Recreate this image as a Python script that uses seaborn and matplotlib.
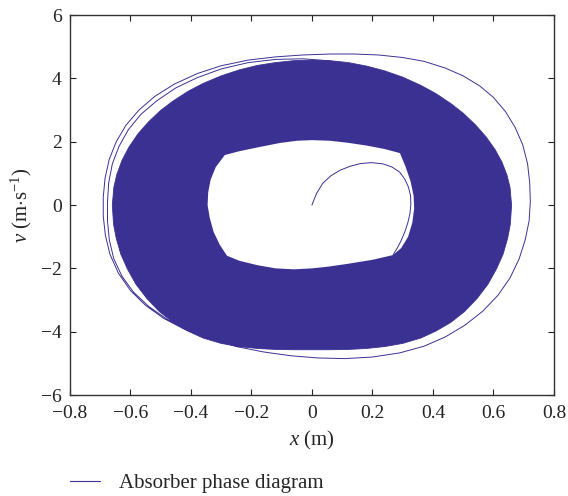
import numpy as np
import pandas as pd
import matplotlib
matplotlib.use("Agg")
import matplotlib.pyplot as plt
import matplotlib.lines as mlines
import seaborn as sns

# band of the settled orbit, outer edge, clockwise from the top
band_outer_x = [0, 0.06, 0.12, 0.18, 0.24, 0.30, 0.36, 0.41, 0.46, 0.50, 0.54, 0.575,
                0.605, 0.628, 0.645, 0.655, 0.66,
                0.656, 0.647, 0.632, 0.61, 0.582, 0.546, 0.505, 0.46, 0.41, 0.36,
                0.30, 0.24, 0.18, 0.12, 0.06, 0,
                -0.06, -0.12, -0.18, -0.24, -0.30, -0.36, -0.41, -0.46, -0.505, -0.546,
                -0.582, -0.61, -0.632, -0.647, -0.656, -0.66,
                -0.655, -0.645, -0.628, -0.605, -0.575, -0.54, -0.50, -0.46, -0.41,
                -0.36, -0.30, -0.24, -0.18, -0.12, -0.06]
band_outer_v = [4.58, 4.56, 4.5, 4.39, 4.24, 4.04, 3.78, 3.52, 3.2, 2.9, 2.54, 2.16,
                1.76, 1.36, 0.94, 0.55, 0,
                -0.6, -1.05, -1.55, -2.02, -2.5, -2.95, -3.36, -3.7, -3.98, -4.2,
                -4.37, -4.47, -4.53, -4.56, -4.57, -4.57,
                -4.57, -4.56, -4.53, -4.47, -4.37, -4.2, -3.98, -3.7, -3.36, -2.95,
                -2.5, -2.02, -1.55, -1.05, -0.6, 0,
                0.56, 0.97, 1.41, 1.83, 2.25, 2.63, 2.99, 3.28, 3.59,
                3.84, 4.08, 4.27, 4.41, 4.5, 4.56]

# hole in the middle of the band, clockwise from the top
band_inner_x = [0, 0.06, 0.116, 0.18, 0.24, 0.291,
                0.31, 0.326, 0.336, 0.338, 0.332, 0.318, 0.295, 0.268,
                0.2, 0.116, 0.05, 0, -0.06, -0.12, -0.18, -0.24, -0.281,
                -0.305, -0.325, -0.338, -0.345, -0.343, -0.335, -0.318, -0.288,
                -0.24, -0.18, -0.106, -0.05]
band_inner_v = [2.05, 2.03, 1.97, 1.88, 1.77, 1.64,
                1.2, 0.75, 0.3, -0.1, -0.55, -1.0, -1.36, -1.58,
                -1.73, -1.86, -1.95, -2.0, -2.03, -2.0, -1.9, -1.76, -1.6,
                -1.25, -0.85, -0.4, 0, 0.4, 0.8, 1.2, 1.58,
                1.7, 1.82, 1.96, 2.03]

# start of the motion from rest
start_x = [0, 0.006, 0.016, 0.036, 0.062, 0.093, 0.125, 0.16, 0.198, 0.235, 0.265,
           0.29, 0.307, 0.319, 0.326, 0.327, 0.324, 0.317, 0.307, 0.295, 0.282, 0.268]
start_v = [0, 0.15, 0.38, 0.69, 0.92, 1.1, 1.22, 1.31, 1.34, 1.3, 1.2,
           1.04, 0.82, 0.57, 0.3, 0.02, -0.27, -0.56, -0.85, -1.12, -1.36, -1.58]

# overshoot loops outside the band
over_x = [-0.15, -0.25, -0.34, -0.42, -0.49, -0.55, -0.60, -0.64, -0.668, -0.683,
          -0.69, -0.69, -0.684, -0.67, -0.647, -0.615, -0.572, -0.52, -0.455, -0.38,
          -0.3, -0.21, -0.12, -0.03, 0.06, 0.14,
          0.22, 0.3, 0.37, 0.44, 0.5, 0.555, 0.6, 0.64, 0.672, 0.697, 0.713, 0.72,
          0.722, 0.718, 0.705, 0.685, 0.655, 0.615, 0.565, 0.505, 0.44, 0.37, 0.29,
          0.2, 0.11, 0.02, -0.07, -0.16, -0.25,
          -0.33, -0.41, -0.48, -0.54, -0.59, -0.628, -0.655, -0.67, -0.676, -0.676,
          -0.672, -0.66, -0.638, -0.607, -0.565, -0.512, -0.45, -0.38, -0.3, -0.21,
          -0.12, -0.03, 0.05, 0.12]
over_v = [-4.52, -4.45, -4.22, -3.93, -3.58, -3.17, -2.7, -2.15, -1.55, -0.95,
          -0.35, 0.25, 0.85, 1.45, 2.0, 2.52, 3.0, 3.43, 3.82, 4.15,
          4.4, 4.58, 4.68, 4.74, 4.77, 4.77,
          4.74, 4.66, 4.54, 4.33, 4.08, 3.76, 3.4, 2.95, 2.45, 1.9, 1.3, 0.7,
          0.1, -0.5, -1.1, -1.7, -2.3, -2.85, -3.35, -3.8, -4.17, -4.46, -4.67,
          -4.8, -4.85, -4.83, -4.76, -4.64, -4.47,
          -4.25, -3.95, -3.6, -3.2, -2.75, -2.25, -1.7, -1.1, -0.5, 0.1,
          0.7, 1.3, 1.85, 2.38, 2.87, 3.3, 3.7, 4.02, 4.3, 4.5,
          4.6, 4.62, 4.56, 4.44]

x_ticks = [-0.8, -0.6, -0.4, -0.2, 0, 0.2, 0.4, 0.6, 0.8]
x_tick_labels = ["\u22120.8", "\u22120.6", "\u22120.4", "\u22120.2", "0",
                 "0.2", "0.4", "0.6", "0.8"]
v_ticks = [-6, -4, -2, 0, 2, 4, 6]
v_tick_labels = ["\u22126", "\u22124", "\u22122", "0", "2", "4", "6"]
legend_label = "Absorber phase diagram"

color = "#3a3192"

sns.set_style("ticks")
plt.rcParams["font.family"] = ["Liberation Serif", "DejaVu Serif"]
plt.rcParams["mathtext.fontset"] = "custom"
plt.rcParams["mathtext.rm"] = "Liberation Serif"
plt.rcParams["mathtext.it"] = "Liberation Serif:italic"

fig = plt.figure(figsize=(5.68, 4.96), dpi=100)
ax = fig.add_axes([0.1232, 0.2036, 0.852, 0.766])

ax.fill(band_outer_x, band_outer_v, color=color, lw=0.6, ec=color)
ax.fill(band_inner_x, band_inner_v, color="white", lw=0)

lines = pd.concat([
    pd.DataFrame({"x": start_x, "v": start_v, "seg": "start"}),
    pd.DataFrame({"x": over_x, "v": over_v, "seg": "over"}),
])
sns.lineplot(data=lines, x="x", y="v", units="seg", estimator=None, sort=False,
             color=color, lw=0.7, ax=ax, legend=False)

ax.set_xlim(-0.8, 0.8)
ax.set_ylim(-6, 6)
ax.set_xticks(x_ticks)
ax.set_xticklabels(x_tick_labels)
ax.set_yticks(v_ticks)
ax.set_yticklabels(v_tick_labels)
ax.tick_params(direction="in", length=4, width=0.8, top=True, right=True,
               labelsize=14, colors="#222222")
ax.tick_params(axis="x", pad=7)
ax.tick_params(axis="y", pad=6)
for s in ax.spines.values():
    s.set_visible(True)
    s.set_linewidth(1.0)
    s.set_color("#333333")

ax.set_xlabel(r"$\mathit{x}$ (m)", fontsize=15, labelpad=5)
ax.set_ylabel(r"$\mathit{v}$ (m$\cdot$s$^{-1}$)", fontsize=15, labelpad=5)

handle = mlines.Line2D([], [], color=color, lw=0.8, label=legend_label)
fig.legend(handles=[handle], loc="center left", bbox_to_anchor=(0.09, 0.026),
           frameon=False, fontsize=15, handlelength=1.45, handletextpad=0.9)

fig.savefig("out.png", dpi=100)
